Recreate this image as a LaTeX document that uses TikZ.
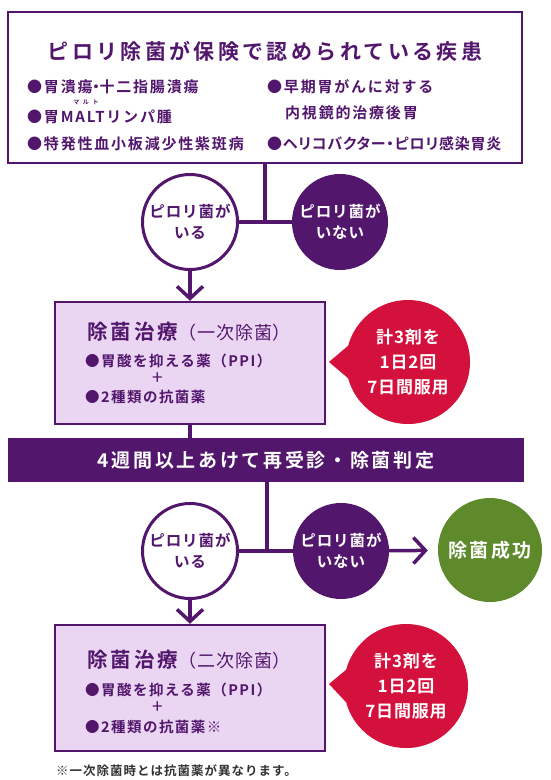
\documentclass[tikz,border=0pt]{standalone}
\usepackage{fontspec}
\setmainfont{Noto Sans CJK JP}
\newfontfamily\jb{Noto Sans CJK JP Bold}
\newfontfamily\jr{Noto Sans CJK JP}
\newcommand\lsp[1]{\addfontfeature{LetterSpace=#1}}
\newcommand\fsz[1]{\fontsize{#1}{#1}\selectfont}
\newcommand\nak{\kern-4pt・\kern-4pt}
\usetikzlibrary{arrows.meta}
\definecolor{pp}{RGB}{82,22,108}
\definecolor{lav}{RGB}{234,214,242}
\definecolor{rd}{RGB}{212,16,60}
\definecolor{gn}{RGB}{94,138,44}
\tikzset{
  conn/.style={draw=pp, line width=3.5pt},
  arr/.style={conn, -{Straight Barb[length=12pt,width=26pt]}},
  topbox/.style={draw=pp, line width=2pt, fill=white, minimum width=514pt, minimum height=151pt, inner sep=0pt},
  treat/.style={draw=pp, line width=2.5pt, fill=lav, minimum width=270pt, inner sep=0pt},
  band/.style={fill=pp, minimum width=516pt, minimum height=44pt, inner sep=0pt, text=white, font=\jb\fsz{19}\lsp{14}},
  yes/.style={circle, draw=pp, line width=3pt, fill=white, minimum size=95pt, inner sep=0pt, text=pp, align=center, font=\jb\fontsize{15.5}{21}\selectfont\lsp{6}},
  no/.style={circle, fill=pp, minimum size=96pt, inner sep=0pt, text=white, align=center, font=\jb\fontsize{15.5}{21}\selectfont\lsp{6}},
  ok/.style={circle, fill=gn, minimum size=104pt, inner sep=0pt, text=white, font=\jb\fsz{19}\lsp{12}},
  bubble/.style={circle, fill=rd, minimum size=124pt, inner sep=0pt, text=white, align=center, font=\jb\fontsize{17}{25}\selectfont\lsp{5}},
  item/.style={anchor=west, inner sep=0pt, text=pp, font=\jb\fsz{15}\lsp{12}},
  ttl/.style={anchor=west, inner sep=0pt, text=pp},
  btxt/.style={anchor=west, inner sep=0pt, text=pp, font=\jb\fsz{14.5}\lsp{10}, text height=10pt, text depth=1.5pt},
  plus/.style={inner sep=0pt, text=pp, font=\jr\fsz{19}, text height=7pt, text depth=0pt},
}
\begin{document}
\begin{tikzpicture}[x=1pt,y=-1pt]
\useasboundingbox (0,0) rectangle (550,780);
\fill[white] (0,0) rectangle (550,780);

% top box
\node[topbox] (top) at (265,87.5) {};
\node[inner sep=0pt, text=pp, font=\jb\fsz{21}\lsp{16}] (title) at (265,51) {ピロリ除菌が保険で認められている疾患};
\node[item] (i1) at (27,87) {●胃潰瘍\nak 十二指腸潰瘍};
\node[item] (i2) at (27,117) {●胃MALTリンパ腫};
\node[inner sep=0pt, text=pp, font=\jb\fsz{6}\lsp{60}] (ruby) at (86,102) {マルト};
\node[item] (i3) at (27,144) {●特発性血小板減少性紫斑病};
\node[item] (i4) at (267,87) {●早期胃がんに対する};
\node[item] (i5) at (285,113) {内視鏡的治療後胃};
\node[item, font=\jb\fsz{15}\lsp{5}\addfontfeature{RawFeature=+palt}] (i6) at (267,144) {●ヘリコバクター・ピロリ感染胃炎};

% first split
\node[yes] (c1) at (190,222) {ピロリ菌が\\いる};
\node[no] (c2) at (340,222) {ピロリ菌が\\いない};
\coordinate (j1) at (265,222);
\draw[conn] (top.south -| j1) -- (j1);
\draw[conn] (c1) -- (c2);

% first treatment
\node[treat, minimum height=122pt] (b2) at (190,363) {};
\node[ttl] (t2) at (87,332) {{\jb\fsz{20.5}\lsp{15}除菌治療}{\jr\fsz{18}\lsp{5}（一次除菌）}};
\node[btxt] (p2) at (85,362) {●胃酸を抑える薬（PPI）};
\node[plus] (plus2) at (158,380.5) {+};
\node[btxt] (q2) at (85,398) {●2種類の抗菌薬};
\draw[arr] (c1) -- (b2);

\node[bubble] (r1) at (408,362) {計3剤を\\1日2回\\7日間服用};
\coordinate (tip1) at (329,362);
\fill[rd] (tip1) -- (r1.165) -- (r1.195) -- cycle;

% band
\node[band] (bd) at (266,460) {4週間以上あけて再受診・除菌判定};
\draw[conn] (b2.south) -- (b2.south |- bd.north);

% second split
\node[yes] (c3) at (190,551) {ピロリ菌が\\いる};
\node[no] (c4) at (341,551) {ピロリ菌が\\いない};
\node[ok] (g) at (490,550) {除菌成功};
\coordinate (j2) at (267,551);
\draw[conn] (bd.south -| j2) -- (j2);
\draw[conn] (c3) -- (c4);
\draw[arr, shorten >=10pt] (c4) -- (g);

% second treatment
\node[treat, minimum height=126pt] (b3) at (190,688) {};
\node[ttl] (t3) at (87,660) {{\jb\fsz{20.5}\lsp{15}除菌治療}{\jr\fsz{18}\lsp{5}（二次除菌）}};
\node[btxt] (p3) at (85,691) {●胃酸を抑える薬（PPI）};
\node[plus] (plus3) at (158,710) {+};
\node[btxt] (q3) at (85,728) {●2種類の抗菌薬※};
\draw[arr] (c3) -- (b3);

\node[bubble] (r2) at (406,686) {計3剤を\\1日2回\\7日間服用};
\coordinate (tip2) at (329,684);
\fill[rd] (tip2) -- (r2.165) -- (r2.195) -- cycle;

\node[anchor=west, inner sep=0pt, text=black!80, font=\jb\fsz{12.5}\lsp{8}] (note) at (56,771) {※一次除菌時とは抗菌薬が異なります。};
\end{tikzpicture}
\end{document}
